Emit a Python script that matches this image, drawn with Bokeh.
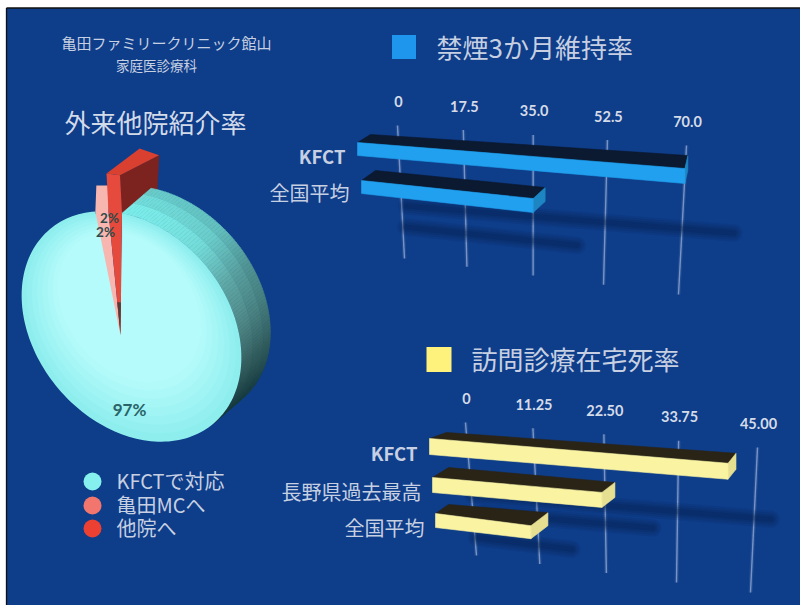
import math
from bokeh.embed import file_html
from bokeh.models import Range1d
from bokeh.plotting import figure
from bokeh.resources import INLINE
from bokeh.core.properties import value

# Chart content
clinic_lines = ["亀田ファミリークリニック館山", "家庭医診療科"]
pie_title = "外来他院紹介率"
pie_names = ["KFCTで対応", "亀田MCへ", "他院へ"]
pie_values = [97, 2, 2]
pie_labels = ["97%", "2%", "2%"]

quit_title = "禁煙3か月維持率"
quit_rows = ["KFCT", "全国平均"]
quit_values = [70, 35]
quit_ticks = [0, 17.5, 35, 52.5, 70]
quit_tick_labels = ["0", "17.5", "35.0", "52.5", "70.0"]

home_title = "訪問診療在宅死率"
home_rows = ["KFCT", "長野県過去最高", "全国平均"]
home_values = [41, 22, 10]
home_ticks = [0, 11.25, 22.5, 33.75, 45]
home_tick_labels = ["0", "11.25", "22.50", "33.75", "45.00"]

JP = value("Noto Sans CJK JP")
LATIN = value("Lato")
TEXT = "#c6d0e2"
BG = "#0e3d89"


def lerp(a, b, t):
    return a + (b - a) * t


def mix(c1, c2, t):
    t = max(0.0, min(1.0, t))
    a = [int(c1[i:i + 2], 16) for i in (1, 3, 5)]
    b = [int(c2[i:i + 2], 16) for i in (1, 3, 5)]
    return "#%02x%02x%02x" % tuple(round(lerp(x, y, t)) for x, y in zip(a, b))


p = figure(width=800, height=605, output_backend="svg", toolbar_location=None,
           x_range=Range1d(0, 800), y_range=Range1d(605, 0), min_border=0,
           outline_line_color=None, background_fill_color="white",
           border_fill_color="white")
p.xaxis.visible = False
p.yaxis.visible = False
p.grid.visible = False

# Backdrop with its thin black top and left rule
p.quad(left=[6], right=[800], top=[7.5], bottom=[605], fill_color=BG, line_color=None)
p.segment([6, 6], [7.5, 7.5], [800, 6], [7.5, 605], line_color="#101010", line_width=1.3)


def bar_chart(ticks, tick_labels, rows, values, top_edge, bottom_edge, depth_k, layouts,
              front, top_face, side, shadow):
    """Receding horizontal bars: values run through a perspective scale onto the grid."""
    vmax = max(ticks)

    def persp(v):
        t = v / vmax
        return t / (t + depth_k * (1 - t)) if v > 0 else 0.0

    def tick_top(v):
        f = persp(v)
        return lerp(top_edge[0], top_edge[2], f), lerp(top_edge[1], top_edge[3], f)

    def tick_bottom(v):
        f = persp(v)
        return lerp(bottom_edge[0], bottom_edge[2], f), lerp(bottom_edge[1], bottom_edge[3], f)

    def grid_x(v, y):
        x0, y0 = tick_top(v)
        x1, y1 = tick_bottom(v)
        return lerp(x0, x1, (y - y0) / (y1 - y0))

    for v, lab in zip(ticks, tick_labels):
        x0, y0 = tick_top(v)
        x1, y1 = tick_bottom(v)
        p.line([x0, x1], [y0, y1], line_color="#8ea8d2", line_width=4, line_alpha=0.14)
        p.line([x0, x1], [y0, y1], line_color="#9fb4d8", line_width=1.4, line_alpha=0.7)
        p.text([x0 + 1], [y0 - 24], text=[lab], text_font=LATIN, text_font_size="14.5px",
               text_font_style="bold", text_color="#d4dbe8", text_align="center",
               text_baseline="middle")

    # Soft shadows first, bars above them
    for val, lay in zip(values, layouts):
        xl, yt, hl, hr, slope, back_l, back_e, shift = lay
        xe = grid_x(val, yt + slope * 200)
        xe = grid_x(val, yt + slope * (xe - xl) + hr / 2)
        ye = yt + slope * (xe - xl) + hr / 2
        for w, a in ((17, 0.12), (13, 0.15), (9, 0.18), (5, 0.22)):
            p.line([xl + shift[0], xe + shift[0]], [yt + hl / 2 + shift[1], ye + shift[1]],
                   line_color=shadow, line_width=w, line_alpha=a, line_cap="round")

    for name, val, lay in zip(rows, values, layouts):
        xl, yt, hl, hr, slope, back_l, back_e, shift = lay
        xe = grid_x(val, yt + slope * 200)
        xe = grid_x(val, yt + slope * (xe - xl) + hr / 2)
        ye = yt + slope * (xe - xl)
        # top face, end face, front face
        p.patch([xl, xe, xe + back_e[0], xl + back_l[0]],
                [yt, ye, ye + back_e[1], yt + back_l[1]],
                fill_color=top_face, line_color=top_face, line_width=0.6)
        p.patch([xe, xe + back_e[0], xe + back_e[0], xe],
                [ye, ye + back_e[1], ye + back_e[1] + hr, ye + hr],
                fill_color=side, line_color=side, line_width=0.6)
        p.patch([xl, xe, xe, xl], [yt, ye, ye + hr, yt + hl],
                fill_color=front, line_color=front, line_width=0.6)


# Row geometry: left x, top y, left height, end height, slope, back offsets, shadow shift
quit_layout = [
    (357, 142, 13, 15, 0.0795, (13, -8), (3, -13), (49, 57)),
    (361, 180, 13, 14, 0.105, (14, -10), (12, -11), (44, 40)),
]
home_layout = [
    (429, 438, 16, 16, 0.083, (17, -6), (8, -10), (43, 48)),
    (432, 477, 15, 15, 0.088, (16, -10), (13, -10), (51, 28)),
    (435, 513, 14, 13, 0.128, (13, -9), (17, -13), (41, 17)),
]

bar_chart(quit_ticks, quit_tick_labels, quit_rows, quit_values,
          (397, 125, 686, 145), (404, 258, 678, 294), 1.13, quit_layout,
          "#20a0ee", "#0b1a30", "#1d86c2", "#06204f")
bar_chart(home_ticks, home_tick_labels, home_rows, home_values,
          (465, 422, 757, 447), (476, 555, 750, 592), 1.11, home_layout,
          "#faf3a2", "#2a2416", "#e6de90", "#06204f")

# Pie: tilted ellipse, extruded up and to the right
CX, CY, A, B = 131, 326, 127, 96
TILT = math.radians(50)
APEX = (120, 335)
EXTRUDE = (29, -25)
SEAM = 215.9  # rim angle where the two small slices meet
WALL_END = 360  # rim angle past which the extruded wall is out of sight


def rim(deg, scale=1.0, ox=0.0, oy=0.0):
    th = math.radians(deg)
    u, v = A * math.cos(th) * scale, B * math.sin(th) * scale
    return (CX + ox + u * math.cos(TILT) - v * math.sin(TILT),
            CY + oy + u * math.sin(TILT) + v * math.cos(TILT))


total = sum(pie_values)
sweep = [v / total * 360 for v in pie_values]
pink_start = SEAM - sweep[1]
red_end = SEAM + sweep[2]
main_end = red_end + sweep[0]

# Dark cut side of the red slice, behind the disc's own wall
POP_RED = (-2, -38)
POP_PINK = (1, -26)
RED_DEPTH = (39, -20)
rx, ry = rim(red_end)
p.patch([rx + POP_RED[0], rx + POP_RED[0] + RED_DEPTH[0], rx + EXTRUDE[0] + 6, rx],
        [ry + POP_RED[1], ry + POP_RED[1] + RED_DEPTH[1], ry + EXTRUDE[1] + 4, ry],
        fill_color="#7c2320", line_color="#7c2320", line_width=0.5)

# Wall of the disc, shaded along the rim from bright to almost black
wall_stops = [(186, "#7ceeea"), (225, "#74dcd8"), (260, "#5fa8a6"), (300, "#4f8886"),
              (340, "#36605f"), (380, "#1c3f40"), (420, "#0f2f33")]


def wall_color(y):
    for (y0, c0), (y1, c1) in zip(wall_stops, wall_stops[1:]):
        if y <= y1:
            return mix(c0, c1, (y - y0) / (y1 - y0))
    return wall_stops[-1][1]


xs, ys, cols = [], [], []
steps = 90
for i in range(steps):
    a0 = lerp(red_end, WALL_END, i / steps)
    a1 = lerp(red_end, WALL_END, (i + 1) / steps)
    for f0, f1, shade in ((0, 0.4, 0.0), (0.4, 0.75, 0.1), (0.75, 1.0, 0.2)):
        p0 = rim(a0, ox=EXTRUDE[0] * f0, oy=EXTRUDE[1] * f0)
        p1 = rim(a1, ox=EXTRUDE[0] * f0, oy=EXTRUDE[1] * f0)
        p2 = rim(a1, ox=EXTRUDE[0] * f1, oy=EXTRUDE[1] * f1)
        p3 = rim(a0, ox=EXTRUDE[0] * f1, oy=EXTRUDE[1] * f1)
        xs.append([p0[0], p1[0], p2[0], p3[0]])
        ys.append([p0[1], p1[1], p2[1], p3[1]])
        cols.append(mix(wall_color(rim(a0, ox=EXTRUDE[0], oy=EXTRUDE[1])[1]), "#1a4a50", shade))
p.patches(xs, ys, fill_color=cols, line_color=cols, line_width=0.6)

# Main face: nested outlines give it a soft glow toward the top
arc = [rim(lerp(red_end, main_end, i / 180)) for i in range(181)]
layers = 10
for k in range(layers):
    f = k / layers
    s = 1 - 0.5 * f
    fx = [lerp(125, q[0], s) for q in arc] + [APEX[0]]
    fy = [lerp(270, q[1], s) for q in arc] + [APEX[1]]
    col = mix("#8eeeee", "#b6fbfb", f * 1.5)
    p.patch(fx, fy, fill_color=col, line_color=None)

# Small slices pulled up out of the disc, their rim corners kept so no gap shows
a, b = rim(pink_start), rim(SEAM)
p.patch([a[0], a[0] + POP_PINK[0], b[0] + POP_PINK[0], b[0], APEX[0]],
        [a[1], a[1] + POP_PINK[1], b[1] + POP_PINK[1], b[1], APEX[1]],
        fill_color="#f8b6b0", line_color=None)

c, d = rim(SEAM), rim(red_end)
r0 = (c[0] + POP_RED[0], c[1] + POP_RED[1])
r1 = (d[0] + POP_RED[0], d[1] + POP_RED[1])
p.patch([c[0], r0[0], r1[0], d[0], APEX[0]], [c[1], r0[1], r1[1], d[1], APEX[1]],
        fill_color="#e64a3c", line_color=None)
p.patch([r0[0], r1[0], r1[0] + RED_DEPTH[0], r0[0] + RED_DEPTH[0] * 0.85],
        [r0[1], r1[1], r1[1] + RED_DEPTH[1], r0[1] + RED_DEPTH[1] * 1.25],
        fill_color="#d9402f", line_color=None)
# The slices narrow to a dark point at the centre
p.patch([lerp(APEX[0], c[0], 0.27), lerp(APEX[0], d[0], 0.27), APEX[0]],
        [lerp(APEX[1], c[1], 0.27), lerp(APEX[1], d[1], 0.27), APEX[1]],
        fill_color="#5a3a34", line_color=None)

p.text([129], [409], text=[pie_labels[0]], text_font=LATIN, text_font_size="17px",
       text_font_style="bold", text_color="#2a6468", text_align="center", text_baseline="middle")
p.text([109, 105], [217, 231], text=pie_labels[1:], text_font=LATIN, text_font_size="13.5px",
       text_font_style="bold", text_color="#2f4a4a", text_align="center", text_baseline="middle")

# Headings
p.text([166], [41.5], text=[clinic_lines[0]], text_font=JP, text_font_size="15px",
       text_color=TEXT, text_align="center", text_baseline="middle")
p.text([156], [64.5], text=[clinic_lines[1]], text_font=JP, text_font_size="13.5px",
       text_color=TEXT, text_align="center", text_baseline="middle")
p.text([155], [121], text=[pie_title], text_font=JP, text_font_size="26px",
       text_color="#d3dbe9", text_align="center", text_baseline="middle")

p.rect([403.5], [46.5], 24, 24, fill_color="#1e96ee", line_color=None)
p.text([436], [46], text=[quit_title], text_font=JP, text_font_size="26px",
       text_color=TEXT, text_align="left", text_baseline="middle")
p.rect([438.5], [359], 25, 25, fill_color="#fff27c", line_color=None)
p.text([471], [358], text=[home_title], text_font=JP, text_font_size="26px",
       text_color=TEXT, text_align="left", text_baseline="middle")

# Row names; the Latin ones carry more weight than the Japanese
for name, x, y in zip(quit_rows + home_rows, [345, 349, 417, 421, 424], [155, 192, 452, 491, 527]):
    latin = name.isascii()
    p.text([x], [y], text=[name], text_font=JP, text_font_size="18.5px" if latin else "20px",
           text_font_style="bold" if latin else "normal",
           text_color=TEXT, text_align="right", text_baseline="middle")

# Pie legend
p.scatter([92, 92, 92], [481, 505, 528], size=18, marker="circle",
          fill_color=["#86f0ee", "#f2766e", "#ec4033"], line_color=None)
p.text([116, 116, 116], [479.5, 503.5, 526.5], text=pie_names, text_font=JP, text_font_size="20px",
       text_color=TEXT, text_align="left", text_baseline="middle")

open("out.html", "w").write(file_html(p, INLINE))
